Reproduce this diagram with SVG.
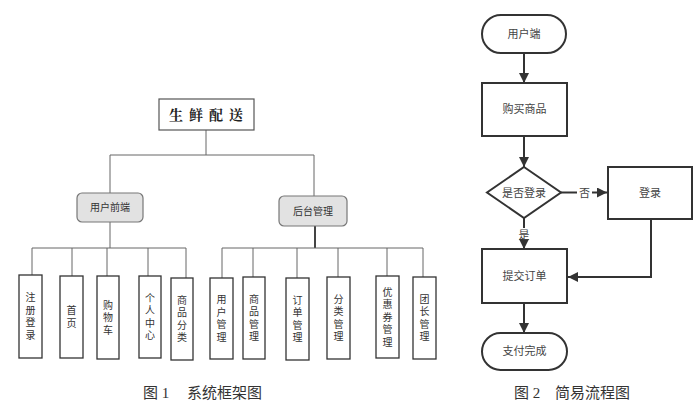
<svg xmlns="http://www.w3.org/2000/svg" width="700" height="409" viewBox="0 0 700 409">
<defs>
<marker id="arr" viewBox="0 0 10 10" refX="10" refY="5" markerWidth="10" markerHeight="10" markerUnits="userSpaceOnUse" orient="auto">
<path d="M0,0 L10,5 L0,10 Z" fill="#333"/>
</marker>
<style>
.bg{fill:#fff}
.tl{fill:none;stroke:#666;stroke-width:1}
.tlb{fill:none;stroke:#444;stroke-width:2}
.leaf{fill:#fff;stroke:#333;stroke-width:1.3}
.mid{fill:#e2e2e2;stroke:#777;stroke-width:1.2}
.root{fill:#fff;stroke:#555;stroke-width:1.2}
.fc{fill:#fff;stroke:#333;stroke-width:2}
.fl{fill:none;stroke:#333;stroke-width:2}
.vt{font-family:"Noto Sans CJK SC","Noto Sans",sans-serif;font-size:10px;fill:#333;text-anchor:middle;writing-mode:vertical-rl;letter-spacing:2.5px}
.mt{font-family:"Noto Sans CJK SC","Noto Sans",sans-serif;font-size:10px;fill:#333;text-anchor:middle}
.ft{font-family:"Noto Sans CJK SC","Noto Sans",sans-serif;font-size:11px;fill:#444;text-anchor:middle}
.rt{font-family:"Noto Serif CJK SC","Noto Sans CJK SC",serif;font-size:14px;font-weight:bold;fill:#222;text-anchor:middle;letter-spacing:6px}
.cap{font-family:"Liberation Serif","Noto Sans CJK SC",serif;font-size:15px;fill:#333}
</style>
</defs>
<rect class="bg" width="700" height="409"/>

<g id="connectors">
<path class="tl" d="M206 130 V155 M110 155 H314 M110 155 V193 M314 155 V196"/>
<path class="tl" d="M110 222 V248 M32 248 H186 M32 248 V275 M72 248 V276 M107 248 V276 M148 248 V276 M186 248 V278"/>
<path class="tlb" d="M315 226 V248"/>
<path class="tl" d="M222 248 H423 M222 248 V278 M253 248 V277 M297 248 V278 M338 248 V277 M387 248 V276 M423 248 V277"/>
<path class="fl" d="M524 53 V83" marker-end="url(#arr)"/>
<path class="fl" d="M524 136 V167" marker-end="url(#arr)"/>
<path class="fl" d="M561 192.5 H577"/>
<path class="fl" d="M592 192.5 H607" marker-end="url(#arr)"/>
<path class="fl" d="M524 218 V228"/>
<path class="fl" d="M524 241 V249" marker-end="url(#arr)"/>
<path class="fl" d="M651 219 V277 H568" marker-end="url(#arr)"/>
<path class="fl" d="M524 303 V333" marker-end="url(#arr)"/>
<text class="ft" x="584.5" y="197">否</text>
<text class="ft" x="524" y="239">是</text>
</g>

<g id="root">
<rect class="root" x="159" y="99" width="95" height="31"/>
<text class="rt" x="209" y="120">生鲜配送</text>
</g>
<g id="user-front">
<rect class="mid" x="77" y="193" width="66" height="29" rx="5"/>
<text class="mt" x="110" y="211">用户前端</text>
</g>
<g id="backend">
<rect class="mid" x="279" y="196" width="68" height="30" rx="5"/>
<text class="mt" x="313" y="215">后台管理</text>
</g>

<g id="leaf-register">
<rect class="leaf" x="19" y="275" width="23" height="83"/>
<text class="vt" x="30.5" y="317.7">注册登录</text>
</g>
<g id="leaf-home">
<rect class="leaf" x="60" y="276" width="23" height="82"/>
<text class="vt" x="71.5" y="318.2">首页</text>
</g>
<g id="leaf-cart">
<rect class="leaf" x="97" y="276" width="22" height="83"/>
<text class="vt" x="108" y="318.7">购物车</text>
</g>
<g id="leaf-personal">
<rect class="leaf" x="139" y="276" width="22" height="82"/>
<text class="vt" x="150" y="318.2">个人中心</text>
</g>
<g id="leaf-category">
<rect class="leaf" x="171" y="278" width="22" height="82"/>
<text class="vt" x="182" y="320.2">商品分类</text>
</g>
<g id="leaf-user-mgmt">
<rect class="leaf" x="210" y="278" width="23" height="81"/>
<text class="vt" x="221.5" y="319.7">用户管理</text>
</g>
<g id="leaf-goods-mgmt">
<rect class="leaf" x="243" y="277" width="22" height="82"/>
<text class="vt" x="254" y="319.2">商品管理</text>
</g>
<g id="leaf-order-mgmt">
<rect class="leaf" x="286" y="278" width="23" height="82"/>
<text class="vt" x="297.5" y="320.2">订单管理</text>
</g>
<g id="leaf-cat-mgmt">
<rect class="leaf" x="327" y="277" width="23" height="82"/>
<text class="vt" x="338.5" y="319.2">分类管理</text>
</g>
<g id="leaf-coupon-mgmt">
<rect class="leaf" x="376" y="276" width="23" height="82"/>
<text class="vt" x="387.5" y="318.2">优惠券管理</text>
</g>
<g id="leaf-leader-mgmt">
<rect class="leaf" x="413" y="277" width="23" height="82"/>
<text class="vt" x="424.5" y="319.2">团长管理</text>
</g>

<g id="fc-start">
<rect class="fc" x="482" y="15" width="84" height="38" rx="19"/>
<text class="ft" x="524" y="38">用户端</text>
</g>
<g id="fc-buy">
<rect class="fc" x="482" y="83" width="85" height="53"/>
<text class="ft" x="524.5" y="113">购买商品</text>
</g>
<g id="fc-check">
<polygon class="fc" points="524,167 561,192.5 524,218 487,192.5"/>
<text class="ft" x="524" y="196.5">是否登录</text>
</g>
<g id="fc-login">
<rect class="fc" x="608" y="167" width="84" height="52"/>
<text class="ft" x="650" y="197">登录</text>
</g>
<g id="fc-submit">
<rect class="fc" x="482" y="249" width="85" height="54"/>
<text class="ft" x="524.5" y="280">提交订单</text>
</g>
<g id="fc-end">
<rect class="fc" x="482" y="333" width="85" height="37" rx="18.5"/>
<text class="ft" x="524.5" y="355">支付完成</text>
</g>

<g id="captions">
<text class="cap" x="143" y="398">图 1</text>
<text class="cap" x="187" y="398">系统框架图</text>
<text class="cap" x="514" y="398">图 2</text>
<text class="cap" x="555" y="398">简易流程图</text>
</g>
</svg>
